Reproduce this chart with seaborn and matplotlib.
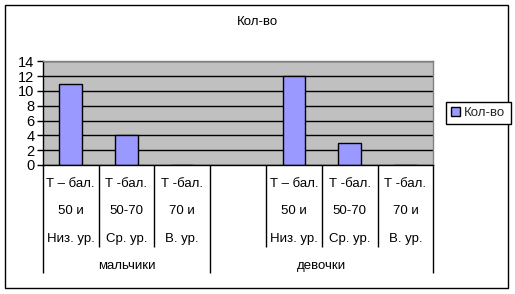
import matplotlib
matplotlib.use("Agg")
import matplotlib.pyplot as plt
import matplotlib.transforms as mtransforms
from matplotlib.patches import Rectangle, Patch
import numpy as np
import pandas as pd
import seaborn as sns

sns.set_theme(style="white")
plt.rcParams["font.family"] = ["Liberation Sans", "DejaVu Sans"]

# Chart content
title = "Кол-во"
series_name = "Кол-во"
groups = ["мальчики", "девочки"]
slot_keys = ["m_low", "m_mid", "m_high", "gap", "d_low", "d_mid", "d_high"]
values = [11, 4, 0, np.nan, 12, 3, 0]
label_row1 = ["Т – бал.", "Т -бал.", "Т -бал.", "", "Т – бал.", "Т -бал.", "Т -бал."]
label_row2 = ["50 и", "50-70", "70 и", "", "50 и", "50-70", "70 и"]
label_row3 = ["Низ. ур.", "Ср. ур.", "В. ур.", "", "Низ. ур.", "Ср. ур.", "В. ур."]
group_spans = [(0, 2), (3, 6)]
y_ticks = [0, 2, 4, 6, 8, 10, 12, 14]

df = pd.DataFrame({"slot": slot_keys, "value": values})

W, H = 515, 294
fig = plt.figure(figsize=(W / 100, H / 100), dpi=100)
fig.patch.set_facecolor("white")

ax_left, ax_right = 42.7, 433.3
ax_top, ax_bottom = 61.3, 165.0
ax = fig.add_axes([ax_left / W, 1 - ax_bottom / H,
                   (ax_right - ax_left) / W, (ax_bottom - ax_top) / H])
ax.set_facecolor("#C0C0C0")

sns.barplot(data=df, x="slot", y="value", order=slot_keys, color="#9999FF",
            saturation=1, edgecolor="black", linewidth=1, width=0.4,
            errorbar=None, ax=ax)

ax.set_xlim(-0.5, len(slot_keys) - 0.5)
ax.set_ylim(0, 14)
ax.set_yticks(y_ticks)
ax.set_yticklabels([str(t) for t in y_ticks], fontsize=10.5)
ax.set_xticks([])
ax.set_xlabel("")
ax.set_ylabel("")
ax.yaxis.grid(True, color="black", linewidth=1)
ax.set_axisbelow(True)
ax.tick_params(axis="y", left=True, length=4, width=1, color="black", pad=2,
               direction="out", labelcolor="black")
for side in ("left", "bottom"):
    ax.spines[side].set_color("black")
    ax.spines[side].set_linewidth(1)
for side in ("top", "right"):
    ax.spines[side].set_color("#808080")
    ax.spines[side].set_linewidth(1)

# Category table below the axis
trans = mtransforms.blended_transform_factory(ax.transData, ax.transAxes)
px = ax_bottom - ax_top
def yfrac(ypix):
    return (ax_bottom - ypix) / px

row_y = [yfrac(184), yfrac(211), yfrac(239)]
for i in range(len(slot_keys)):
    for rows, y in zip((label_row1, label_row2, label_row3), row_y):
        if rows[i]:
            ax.text(i, y, rows[i], transform=trans, ha="center", va="center",
                    fontsize=9.5, color="black")

full_bounds = {-0.5} | {end + 0.5 for _, end in group_spans}
for b in np.arange(-0.5, len(slot_keys), 1.0):
    bottom = yfrac(273) if b in full_bounds else yfrac(247)
    ax.plot([b, b], [0, bottom], transform=trans, color="black", lw=1,
            clip_on=False, solid_capstyle="butt")

for name, (start, end) in zip(groups, group_spans):
    ax.text((start + end) / 2, yfrac(266), name, transform=trans, ha="center",
            va="center", fontsize=9.5, color="black")

fig.text(257.5 / W, 1 - 22 / H, title, ha="center", va="center", fontsize=9.5,
         color="black")

leg = fig.legend(handles=[Patch(facecolor="#9999FF", edgecolor="black", label=series_name)],
                 loc="center left", bbox_to_anchor=(445.7 / W, 1 - 113 / H),
                 frameon=True, fancybox=False, edgecolor="black", framealpha=1,
                 handlelength=0.7, handleheight=0.7, handletextpad=0.3,
                 borderpad=0.4, fontsize=9.5, borderaxespad=0)
leg.get_frame().set_linewidth(1)

fig.patches.append(Rectangle((5 / W, 1 - 288 / H), (508 - 5) / W, (288 - 5) / H,
                             transform=fig.transFigure, fill=False,
                             edgecolor="black", lw=1))

fig.savefig("out.png", dpi=100)
